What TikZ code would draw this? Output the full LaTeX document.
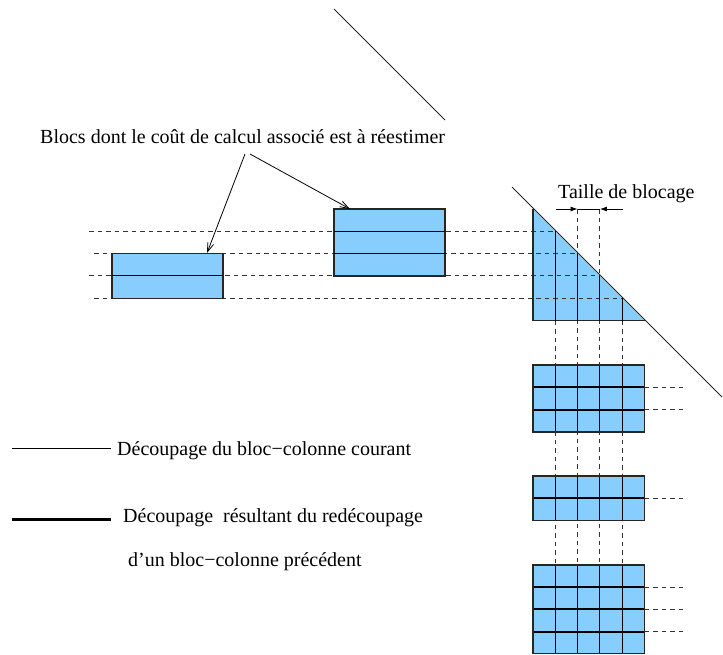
\documentclass[tikz,border=0pt]{standalone}
\usepackage{fontspec}
\setmainfont{Liberation Serif}
\usetikzlibrary{arrows.meta}
\definecolor{ltblue}{RGB}{135,206,255}
\begin{document}
\begin{tikzpicture}[x=1pt,y=-1pt,
  txt/.style={font=\fontsize{20}{24}\selectfont, anchor=base west, inner sep=0pt},
  dsh/.style={dash pattern=on 4.5pt off 4pt, line width=0.9pt, black!80},
  fineline/.style={line width=1pt, black},
  outl/.style={line width=1.3pt, black!85},
  thickline/.style={line width=2.1pt, black},
  callout/.style={line width=0.8pt, black, -{Straight Barb[length=9pt,width=6pt]}},
  dimarrow/.style={line width=0.9pt, black, -{Latex[length=7pt,width=5pt]}}
]
\useasboundingbox (0,0) rectangle (723,654);

% ---------- fills
\fill[ltblue] (112,253.6) rectangle (223,298.2);
\fill[ltblue] (334,209) rectangle (445,275.9);
\fill[ltblue] (533,209) -- (644.5,320.5) -- (533,320.5) -- cycle;
\fill[ltblue] (533,365) rectangle (644.5,431.9);
\fill[ltblue] (533,476) rectangle (644.5,520.6);
\fill[ltblue] (533,565) rectangle (644.5,653.8);

% ---------- dashed guide lines
\draw[dsh] (89,231.3) -- (555.3,231.3);
\draw[dsh] (94,253.6) -- (577.6,253.6);
\draw[dsh] (89,275.9) -- (599.9,275.9);
\draw[dsh] (94,298.2) -- (622.2,298.2);
\draw[dsh] (577.6,209) -- (577.6,565);
\draw[dsh] (599.9,209) -- (599.9,565);
\draw[dsh] (555.3,320.5) -- (555.3,565);
\draw[dsh] (622.2,320.5) -- (622.2,565);
\foreach \y in {387.3,409.6,498.3,587.2,609.4,631.6}
  \draw[dsh] (644.5,\y) -- (684,\y);

% ---------- left blocks
\draw[outl] (112,253.6) rectangle (223,298.2);
\draw[fineline] (112,275.9) -- (223,275.9);
\draw[outl] (334,209) rectangle (445,275.9);
\draw[fineline] (334,231.3) -- (445,231.3);
\draw[fineline] (334,253.6) -- (445,253.6);

% ---------- triangle
\draw[outl] (533,209) -- (533,320.5) -- (644.5,320.5);
\draw[fineline] (555.3,231.3) -- (555.3,320.5);
\draw[fineline] (577.6,253.6) -- (577.6,320.5);
\draw[fineline] (599.9,275.9) -- (599.9,320.5);
\draw[fineline] (622.2,298.2) -- (622.2,320.5);
\coordinate (d1) at (512,187);
\coordinate (d2) at (722,397);
\draw[line width=0.9pt, black!85] (d1) -- (d2);
\coordinate (t1) at (334,9);
\coordinate (t2) at (445,120);
\draw[line width=0.9pt, black!85] (t1) -- (t2);

% ---------- grids
\foreach \top/\bot/\rows in {365/431.9/{387.3,409.6}, 476/520.6/{498.3}, 565/653.8/{587.2,609.4,631.6}}{
  \foreach \x in {555.3,577.6,599.9,622.2}
    \draw[fineline] (\x,\top) -- (\x,\bot);
  \foreach \y in \rows
    \draw[thickline] (533,\y) -- (644.5,\y);
  \draw[outl] (533,\top) rectangle (644.5,\bot);
}

% ---------- dimension "Taille de blocage"
\coordinate (dA) at (556,209);
\coordinate (dB) at (577.6,209);
\coordinate (dC) at (599.9,209);
\coordinate (dD) at (622.5,209);
\draw[line width=0.9pt] (dB) -- (dC);
\draw[dimarrow] (dA) -- (dB);
\draw[dimarrow] (dD) -- (dC);
\node[txt] (taille) at (558,198) {Taille de blocage};

% ---------- callout
\node[txt] (blocs) at (40,143) {Blocs dont le coût de calcul associé est à réestimer};
\coordinate (c1) at (245,154);
\coordinate (c2) at (250,154);
\coordinate (tipA) at (207,253);
\coordinate (tipB) at (350,209);
\draw[callout] (c1) -- (tipA);
\draw[callout] (c2) -- (tipB);

% ---------- legend
\coordinate (l1a) at (12,448);
\coordinate (l1b) at (111,448);
\draw[line width=0.9pt] (l1a) -- (l1b);
\node[txt] (leg1) at (117,455) {Découpage du bloc−colonne courant};
\coordinate (l2a) at (12,519.5);
\coordinate (l2b) at (111,519.5);
\draw[line width=2.4pt] (l2a) -- (l2b);
\node[txt] (leg2) at (123,522) {Découpage\ \ résultant du redécoupage};
\node[txt] (leg3) at (128,566) {d’un bloc−colonne précédent};
\end{tikzpicture}
\end{document}
